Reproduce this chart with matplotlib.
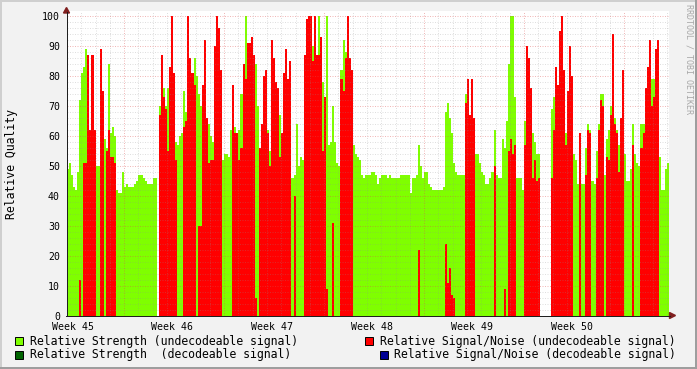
import matplotlib
matplotlib.use('Agg')
import matplotlib.pyplot as plt
from matplotlib.patches import Rectangle, Polygon
from matplotlib.lines import Line2D
import numpy as np

plt.rcParams['font.family'] = ['DejaVu Sans Mono', 'DejaVu Sans']

# ---------------- data (one value per 1/7 day column, 6 weeks) ----------------
strength_undec = [
    49, 51, 47, 43, 42, 48, 72, 81, 83, 89, 80, 62, 70, 55, 50, 50, 50, 50, 59, 56, 84, 61, 63, 60, 42,
    41, 41, 48, 43, 44, 43, 43, 43, 44, 45, 47, 47, 46, 45, 44, 44, 44, 46, 46, 0, 70, 73, 76, 70, 76,
    68, 60, 68, 58, 57, 60, 61, 75, 68, 70, 70, 70, 86, 80, 74, 70, 68, 60, 55, 64, 60, 58, 55, 55, 50,
    46, 52, 54, 54, 53, 62, 60, 63, 58, 62, 74, 80, 100, 80, 90, 85, 85, 84, 70, 55, 60, 60, 65, 62, 55,
    61, 60, 60, 60, 67, 55, 60, 60, 60, 60, 46, 47, 64, 50, 53, 52, 60, 99, 90, 90, 90, 90, 80, 100, 60,
    78, 70, 100, 57, 58, 70, 58, 51, 50, 82, 92, 88, 80, 82, 82, 57, 54, 53, 52, 47, 46, 47, 47, 47, 48,
    48, 47, 44, 46, 47, 47, 47, 46, 47, 46, 46, 46, 46, 47, 47, 47, 47, 47, 41, 46, 46, 47, 57, 50, 46,
    48, 48, 44, 43, 42, 42, 42, 42, 42, 43, 68, 71, 66, 61, 51, 48, 47, 47, 47, 47, 74, 79, 67, 79, 58,
    54, 54, 51, 48, 47, 44, 44, 46, 48, 62, 47, 46, 46, 59, 56, 65, 84, 100, 100, 73, 46, 46, 46, 42, 65,
    65, 65, 65, 61, 58, 54, 54, 0, 0, 0, 0, 0, 69, 73, 73, 73, 73, 73, 74, 61, 61, 61, 61, 54, 52,
    44, 46, 44, 44, 56, 64, 62, 45, 44, 55, 64, 74, 74, 47, 59, 62, 70, 66, 66, 62, 57, 60, 60, 54, 45,
    45, 49, 64, 54, 51, 50, 64, 64, 70, 80, 83, 79, 79, 79, 53, 53, 42, 42, 49, 51, 50, 43, 50, 47, 47,
]
snr_undec = [
    0, 0, 0, 0, 0, 0, 12, 0, 51, 51, 87, 62, 87, 62, 0, 0, 89, 75, 0, 55, 62, 53, 53, 51, 0,
    0, 0, 0, 0, 0, 0, 0, 0, 0, 0, 0, 0, 0, 0, 0, 0, 0, 0, 0, 0, 67, 87, 73, 69, 55,
    83, 100, 81, 52, 0, 0, 0, 63, 65, 100, 86, 81, 77, 0, 30, 30, 77, 92, 66, 51, 52, 52, 90, 100, 96,
    82, 0, 0, 0, 0, 0, 77, 61, 61, 52, 56, 84, 79, 91, 91, 93, 87, 6, 0, 56, 64, 80, 82, 61, 50,
    92, 86, 78, 76, 53, 61, 81, 89, 79, 85, 0, 40, 0, 0, 0, 0, 87, 99, 100, 100, 85, 100, 87, 87, 93,
    55, 73, 9, 0, 0, 31, 0, 0, 0, 79, 75, 86, 100, 86, 82, 0, 0, 0, 0, 0, 0, 0, 0, 0, 0,
    0, 0, 0, 0, 0, 0, 0, 0, 0, 0, 0, 0, 0, 0, 0, 0, 0, 0, 0, 0, 0, 0, 22, 0, 0,
    0, 0, 0, 0, 0, 0, 0, 0, 0, 0, 24, 11, 16, 7, 6, 0, 0, 0, 0, 0, 71, 79, 67, 79, 66,
    0, 0, 0, 0, 0, 0, 0, 0, 0, 50, 0, 0, 0, 0, 9, 0, 55, 59, 54, 57, 0, 0, 0, 0, 57,
    90, 86, 76, 46, 52, 45, 46, 0, 0, 0, 0, 0, 46, 62, 83, 77, 95, 100, 82, 57, 75, 90, 80, 0, 0,
    0, 61, 0, 0, 47, 62, 61, 0, 0, 46, 62, 72, 70, 0, 53, 52, 67, 94, 64, 61, 48, 66, 82, 0, 0,
    0, 0, 57, 0, 0, 0, 56, 61, 76, 83, 92, 70, 73, 89, 92, 0, 0, 0, 0, 0, 0, 0, 0, 0, 0,
]

week_labels = ['Week 45', 'Week 46', 'Week 47', 'Week 48', 'Week 49', 'Week 50']
y_ticks = [0, 10, 20, 30, 40, 50, 60, 70, 80, 90, 100]
legend_labels = [
    'Relative Strength (undecodeable signal)',
    'Relative Signal/Noise (undecodeable signal)',
    'Relative Strength  (decodeable signal)',
    'Relative Signal/Noise (decodeable signal)',
]

# ---------------- style ----------------
W, H = 697, 369
C_BACK = '#f2f2f2'
C_SHADEA = '#cfcfcf'
C_SHADEB = '#9e9e9e'
C_GRID = (0.56, 0.56, 0.56)
C_MGRID = (0.87, 0.31, 0.31)
C_ARROW = (0.5, 0.12, 0.12)
C_AXIS = (0.12, 0.12, 0.12)
C_GREEN = '#7fff00'
C_RED = '#ff0000'
C_DGREEN = '#006400'
C_BLUE = '#000094'

def fx(px):
    return px / W

def fy(py):
    return 1 - py / H

fig = plt.figure(figsize=(W / 100, H / 100), dpi=100)
fig.patch.set_facecolor(C_BACK)

PPU = 2.995  # pixels per unit on y
ax = fig.add_axes([fx(67), 53.5 / H, 602 / W, 304.5 / H])
ax.set_facecolor('white')
BIN = 1 / 7
xmax = 42 * 602 / 600
ax.set_xlim(0, xmax)
ax.set_ylim(0, 304.5 / PPU)
for s in ax.spines.values():
    s.set_visible(False)

x = np.arange(len(strength_undec)) * BIN
ax.bar(x, strength_undec, width=BIN, align='edge', color=C_GREEN,
       linewidth=0, antialiased=False, zorder=2)
ax.bar(x, snr_undec, width=BIN, align='edge', color=C_RED,
       linewidth=0, antialiased=False, zorder=3)

# grid (drawn over the data, like rrdtool)
for v in range(2, 101, 2):
    if v % 10:
        ax.axhline(v, color=C_GRID, alpha=0.28, lw=0.72, ls=(0, (1, 1.5)), zorder=4)
    else:
        ax.axhline(v, color=C_MGRID, alpha=0.4, lw=0.72, ls=(0, (1, 1.5)), zorder=5)
for d in range(1, 43):
    if (d - 4) % 7 == 0:
        ax.axvline(d, color=C_MGRID, alpha=0.4, lw=0.72, ls=(0, (1, 1.5)), zorder=5)
    else:
        ax.axvline(d, color=C_GRID, alpha=0.28, lw=0.72, ls=(0, (1, 1.5)), zorder=4)

ax.set_yticks(y_ticks)
ax.set_yticklabels([str(v) for v in y_ticks], fontsize=7.1)
ax.tick_params(axis='y', length=0, pad=5)
label_pos = [0.385 + 7 * k for k in range(len(week_labels))]
ax.set_xticks(label_pos)
ax.set_xticklabels(week_labels, fontsize=7.1)
ax.tick_params(axis='x', length=0, pad=4.5)

# axes lines and arrows
fig.add_artist(Line2D([fx(66.5), fx(66.5)], [fy(315.5), fy(12)], color=C_AXIS, lw=0.72))
fig.add_artist(Line2D([fx(66), fx(670)], [fy(315.5), fy(315.5)], color=C_AXIS, lw=0.72))
fig.add_artist(Polygon([[fx(66.5), fy(7.5)], [fx(63.5), fy(13)], [fx(69.5), fy(13)]],
                       closed=True, color=C_ARROW, transform=fig.transFigure))
fig.add_artist(Polygon([[fx(675.5), fy(315.5)], [fx(669.5), fy(312.5)], [fx(669.5), fy(318.5)]],
                       closed=True, color=C_ARROW, transform=fig.transFigure))

# frame
fig.add_artist(Rectangle((0, fy(2)), 1, 2 / H, color=C_SHADEA, transform=fig.transFigure, lw=0))
fig.add_artist(Rectangle((0, 0), 2 / W, 1, color=C_SHADEA, transform=fig.transFigure, lw=0))
fig.add_artist(Rectangle((0, 0), 1, 2 / H, color=C_SHADEB, transform=fig.transFigure, lw=0))
fig.add_artist(Rectangle((fx(695), 0), 2 / W, 1, color=C_SHADEB, transform=fig.transFigure, lw=0))

# y label and watermark
fig.text(fx(12), fy(164), 'Relative Quality', rotation=90, ha='center', va='center', fontsize=8.3)
fig.text(fx(688.5), fy(4), 'RRDTOOL / TOBI OETIKER', rotation=270, ha='center', va='top',
         fontsize=6, color='#a8a8a8')

# legend
legend_items = [
    (C_GREEN, 15, 30, 341, legend_labels[0]),
    (C_RED, 365, 380, 341, legend_labels[1]),
    (C_DGREEN, 15, 30, 354.5, legend_labels[2]),
    (C_BLUE, 380, 394, 354.5, legend_labels[3]),
]
for col, sx, tx, cy, lab in legend_items:
    fig.add_artist(Rectangle((fx(sx), fy(cy + 4)), 8 / W, 8 / H, facecolor=col,
                             edgecolor='black', lw=0.7, transform=fig.transFigure))
    fig.text(fx(tx), fy(cy), lab, ha='left', va='center', fontsize=8.3)

fig.savefig('out.png', dpi=100, facecolor=C_BACK)
